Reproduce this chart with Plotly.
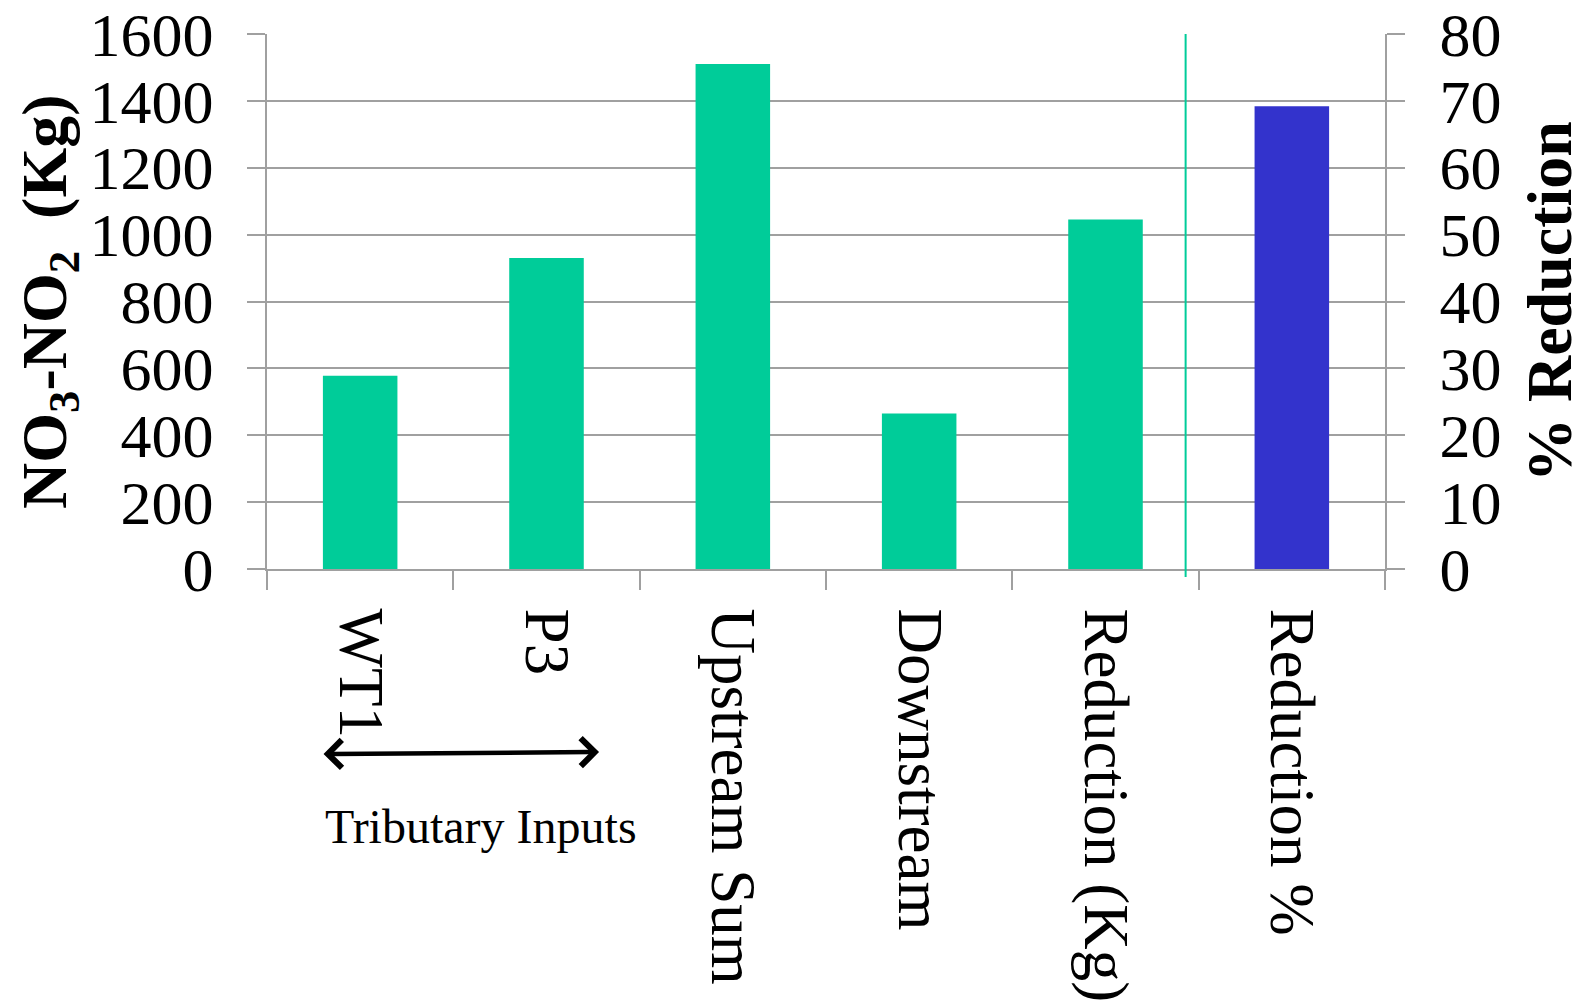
import plotly.graph_objects as go

# Nitrate-nitrite loads (kg) for the tributaries and the reach, plus % reduction
categories = ["WT1", "P3", "Upstream Sum", "Downstream", "Reduction (Kg)", "Reduction %"]
load_categories = ["WT1", "P3", "Upstream Sum", "Downstream", "Reduction (Kg)"]
load_kg = [578, 930, 1510, 465, 1045]
pct_categories = ["Reduction %"]
pct_reduction = [69.2]

left_ticks = [0, 200, 400, 600, 800, 1000, 1200, 1400, 1600]
right_ticks = [0, 10, 20, 30, 40, 50, 60, 70, 80]

W, H = 1593, 1004
ML, MR, MT, MB = 267, 208, 34, 435
PW, PH = W - ML - MR, H - MT - MB


def px(x):
    return (x - ML) / PW


def py(y):
    return (H - MB - y) / PH


FONT = "Liberation Serif"
TEAL = "#00CC99"
BLUE = "#3333CC"
GRID = "#A0A0A0"

fig = go.Figure()
fig.add_trace(go.Bar(x=load_categories, y=load_kg, marker_color=TEAL,
                     marker_line_width=0, width=0.4, yaxis="y", showlegend=False))
fig.add_trace(go.Bar(x=pct_categories, y=pct_reduction, marker_color=BLUE,
                     marker_line_width=0, width=0.4, yaxis="y2", showlegend=False))

fig.update_layout(
    width=W, height=H,
    margin=dict(l=ML, r=MR, t=MT, b=MB, pad=0),
    paper_bgcolor="white", plot_bgcolor="white",
    barmode="overlay",
    font=dict(family=FONT, color="black"),
    xaxis=dict(
        type="category", categoryorder="array", categoryarray=categories,
        range=[-0.5, 5.5], tickson="boundaries", ticks="outside", ticklen=19,
        tickwidth=2, tickcolor=GRID, showline=True, linecolor=GRID, linewidth=2,
        showgrid=False, tickangle=90, tickfont=dict(family=FONT, size=63),
        ticklabelstandoff=25, automargin=False,
    ),
    yaxis=dict(
        range=[0, 1600], tickvals=left_ticks, ticks="outside", ticklen=18,
        tickwidth=2, tickcolor=GRID, showline=True, linecolor=GRID, linewidth=2,
        showgrid=True, gridcolor=GRID, gridwidth=2, zeroline=False,
        tickfont=dict(family=FONT, size=62), ticklabelstandoff=21, automargin=False,
    ),
    yaxis2=dict(
        range=[0, 80], tickvals=right_ticks, overlaying="y", side="right",
        ticks="outside", ticklen=18, tickwidth=2, tickcolor=GRID,
        showline=True, linecolor=GRID, linewidth=2, showgrid=False,
        zeroline=False, tickfont=dict(family=FONT, size=62), ticklabelstandoff=22,
        automargin=False,
    ),
)

# Divider between the load bars and the percentage bar
fig.add_shape(type="line", xref="x", yref="paper", x0=4.43, x1=4.43,
              y0=py(577), y1=1, line=dict(color=TEAL, width=2))

# Axis titles
fig.add_annotation(xref="paper", yref="paper", x=px(49), y=py(302),
                   text="<b>NO<sub>3</sub>-NO<sub>2</sub>  (Kg)</b>", textangle=-90,
                   showarrow=False, font=dict(family=FONT, size=64),
                   xanchor="center", yanchor="middle")
fig.add_annotation(xref="paper", yref="paper", x=px(1549), y=py(302),
                   text="<b>% Reduction</b>", textangle=-90,
                   showarrow=False, font=dict(family=FONT, size=64),
                   xanchor="center", yanchor="middle")

# Double-headed arrow spanning the tributary inputs
fig.add_annotation(xref="x", yref="paper", x=1.282, y=py(752),
                   axref="pixel", ayref="pixel", ax=-(599 - 322), ay=2,
                   text="", showarrow=True, arrowside="end+start",
                   arrowhead=4, startarrowhead=4, arrowsize=1.2, startarrowsize=1.2,
                   arrowwidth=4.5, arrowcolor="black")
fig.add_annotation(xref="paper", yref="paper", x=px(481), y=py(826),
                   text="Tributary Inputs", showarrow=False,
                   font=dict(family=FONT, size=48), xanchor="center", yanchor="middle")

fig.write_html("out.html")
